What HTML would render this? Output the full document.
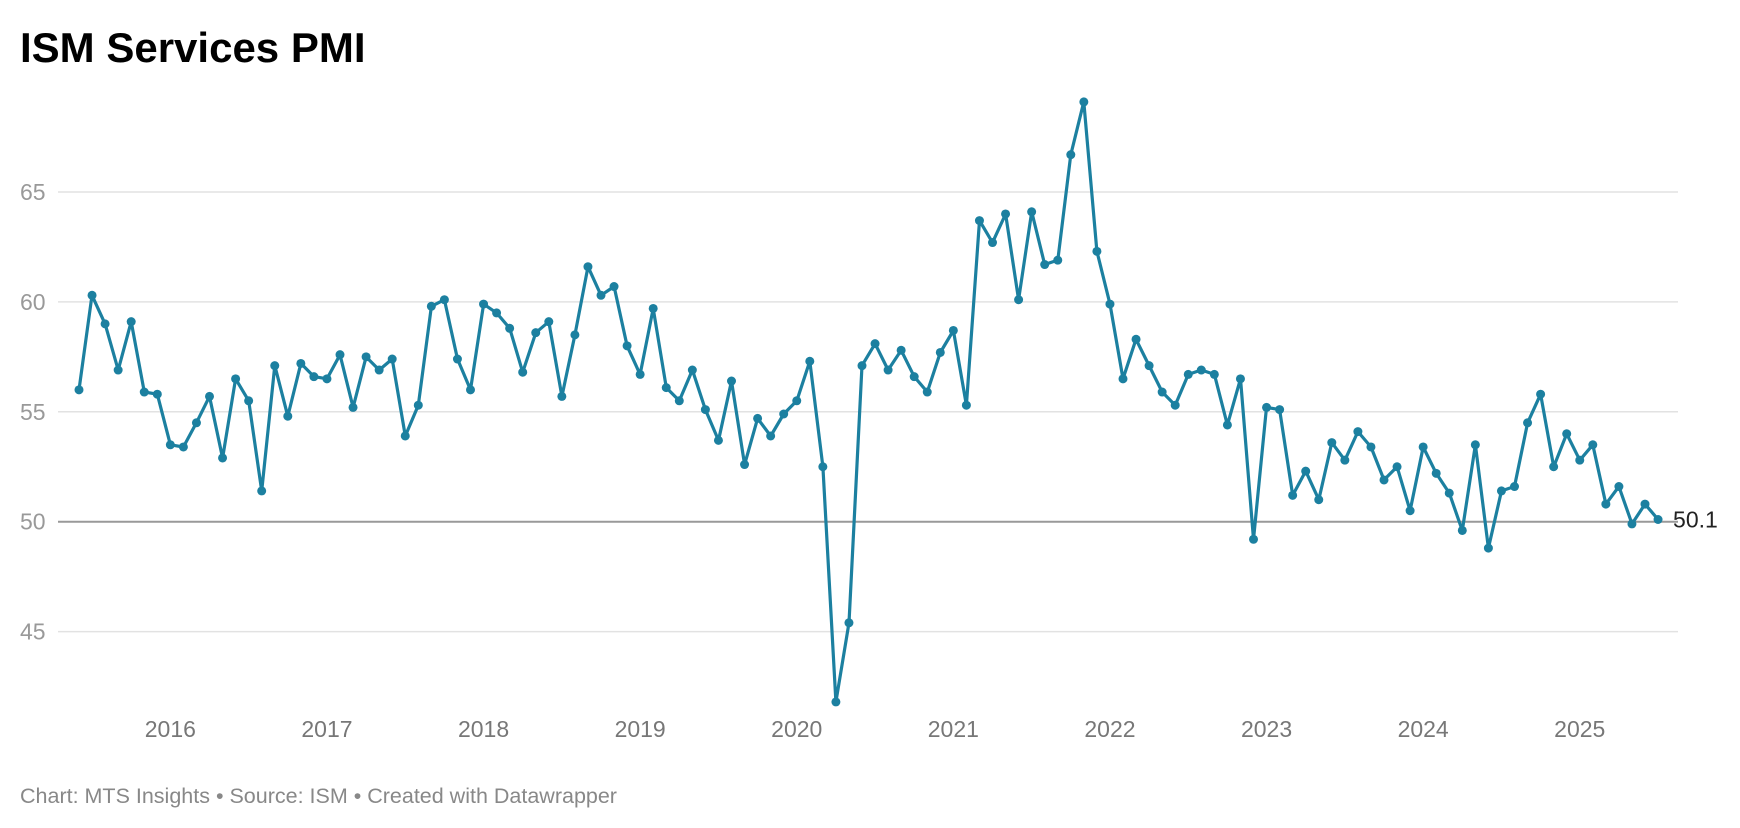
<!DOCTYPE html>
<html><head><meta charset="utf-8"><style>
body{margin:0;background:#fff;width:1740px;height:828px;overflow:hidden;font-family:"Liberation Sans",sans-serif}
svg{position:absolute;left:0;top:0}
</style></head><body>
<svg width="1740" height="828">
<text x="20" y="62" font-size="42" font-weight="bold" fill="#000">ISM Services PMI</text>
<g id="grid"></g><g id="xaxis"></g><g id="series"></g>
<text x="20" y="803" font-size="21.5" fill="#888">Chart: MTS Insights • Source: ISM • Created with Datawrapper</text>
</svg>
<script>
const yTicks=[45,50,55,60,65];
const years=["2016","2017","2018","2019","2020","2021","2022","2023","2024","2025"];
const startYear=2015, startMonth=5; // June 2015 (0-based)
const values=[56.0,60.3,59.0,56.9,59.1,55.9,55.8,
53.5,53.4,54.5,55.7,52.9,56.5,55.5,51.4,57.1,54.8,57.2,56.6,
56.5,57.6,55.2,57.5,56.9,57.4,53.9,55.3,59.8,60.1,57.4,56.0,
59.9,59.5,58.8,56.8,58.6,59.1,55.7,58.5,61.6,60.3,60.7,58.0,
56.7,59.7,56.1,55.5,56.9,55.1,53.7,56.4,52.6,54.7,53.9,54.9,
55.5,57.3,52.5,41.8,45.4,57.1,58.1,56.9,57.8,56.6,55.9,57.7,
58.7,55.3,63.7,62.7,64.0,60.1,64.1,61.7,61.9,66.7,69.1,62.3,
59.9,56.5,58.3,57.1,55.9,55.3,56.7,56.9,56.7,54.4,56.5,49.2,
55.2,55.1,51.2,52.3,51.0,53.6,52.8,54.1,53.4,51.9,52.5,50.5,
53.4,52.2,51.3,49.6,53.5,48.8,51.4,51.6,54.5,55.8,52.5,54.0,
52.8,53.5,50.8,51.6,49.9,50.8,50.1];
const NS="http://www.w3.org/2000/svg";
const x0=79, dx=13.05;
function xm(i){return x0+i*dx;}
function y(v){return 192+(65-v)*21.98;}
const grid=document.getElementById('grid');
yTicks.forEach(t=>{
 const l=document.createElementNS(NS,'line');
 
 
 l.setAttribute('x1',58);l.setAttribute('x2',1678);l.setAttribute('y1',y(t));l.setAttribute('y2',y(t));
 l.setAttribute('stroke',t===50?'#999':'#e2e2e2');l.setAttribute('stroke-width',t===50?2:1.5);
 grid.appendChild(l);
 const tx=document.createElementNS(NS,'text');
 
 
 tx.setAttribute('x',20);tx.setAttribute('y',y(t)+8);tx.setAttribute('font-size',23);tx.setAttribute('fill','#999');
 tx.textContent=t;grid.appendChild(tx);
});
const xa=document.getElementById('xaxis');
years.forEach(yr=>{
 const i=(parseInt(yr)-startYear)*12-startMonth;
 const tx=document.createElementNS(NS,'text');
 
 
 tx.setAttribute('x',xm(i));tx.setAttribute('y',737);tx.setAttribute('font-size',23);tx.setAttribute('fill','#777');tx.setAttribute('text-anchor','middle');
 tx.textContent=yr;xa.appendChild(tx);
});
const s=document.getElementById('series');
const p=document.createElementNS(NS,'path');


p.setAttribute('d',values.map((v,i)=>(i?'L':'M')+xm(i).toFixed(1)+','+y(v).toFixed(1)).join(''));
p.setAttribute('fill','none');p.setAttribute('stroke','#1c80a0');p.setAttribute('stroke-width',3.2);p.setAttribute('stroke-linejoin','round');
s.appendChild(p);
values.forEach((v,i)=>{
 const c=document.createElementNS(NS,'circle');
 
 
 c.setAttribute('cx',xm(i));c.setAttribute('cy',y(v));c.setAttribute('r',4.5);c.setAttribute('fill','#1c80a0');
 s.appendChild(c);
});
const last=values.length-1;
const lb=document.createElementNS(NS,'text');


lb.setAttribute('x',xm(last)+15);lb.setAttribute('y',y(values[last])+8);lb.setAttribute('font-size',23);lb.setAttribute('fill','#222');
lb.textContent=values[last].toFixed(1);s.appendChild(lb);
</script>
</body></html>
